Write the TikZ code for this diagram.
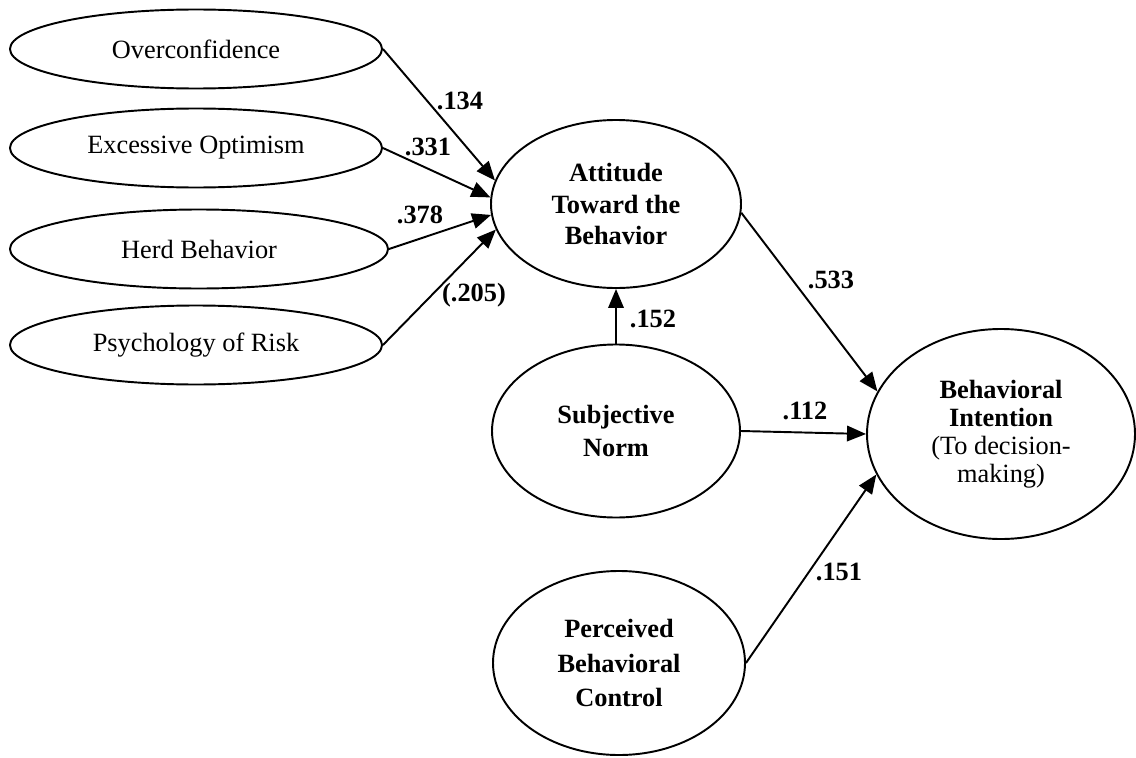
\documentclass[tikz,border=0pt]{standalone}
\usepackage{fontspec}
\setmainfont{Liberation Serif}
\usetikzlibrary{shapes.geometric, arrows.meta, positioning}

\begin{document}
\begin{tikzpicture}[
         factor/.style={ellipse, draw, line width=1.1pt, inner sep=0pt, align=center},
         bias/.style={factor, minimum width=7.44cm, minimum height=1.58cm, font=\fontsize{15}{18}\selectfont},
         construct/.style={factor, font=\fontsize{15}{18}\selectfont\bfseries},
         link/.style={-{Triangle[length=0.38cm, width=0.31cm]}, line width=1.1pt},
         weight/.style={font=\fontsize{15}{18}\selectfont\bfseries}
      ]
         \useasboundingbox (0,0) rectangle (22.72,15.14);

         % Nodes for the biases
         \node[bias] (over) at (3.92,14.16) {Overconfidence};
         \node[bias] (excess) at (3.92,12.18) {Excessive Optimism};
         \node[bias, minimum width=7.56cm] (herd) at (3.98,10.16) {Herd Behavior};
         \node[bias] (risk) at (3.92,8.24) {Psychology of Risk};

         % Nodes for the constructs
         \node[construct, minimum width=5.0cm, minimum height=3.36cm] (att) at (12.32,11.06)
            {Attitude\\Toward the\\Behavior};
         \node[construct, minimum width=4.96cm, minimum height=3.46cm,
            font=\fontsize{15}{18.7}\selectfont\bfseries] (norm) at (12.32,6.52)
            {Subjective\\Norm};
         \node[construct, minimum width=5.04cm, minimum height=3.68cm,
            font=\fontsize{15}{19.8}\selectfont\bfseries] (control) at (12.38,1.88)
            {Perceived\\Behavioral\\Control};
         \node[factor, minimum width=5.36cm, minimum height=4.2cm,
            font=\fontsize{15}{16}\selectfont] (intent) at (20.02,6.46)
            {\textbf{Behavioral}\\\textbf{Intention}\\(To decision-\\making)};

         % Paths
         \draw[link] (over.east) -- (att.169);
         \draw[link] (excess.east) -- (att.177);
         \draw[link] (herd.east) -- (att.185);
         \draw[link] (risk.east) -- (att.192);
         \draw[link] (norm.north) -- (att.south);
         \draw[link] (att.-4) -- (intent.161);
         \draw[link] (norm.east) -- (intent.180);
         \draw[link] (control.east) -- (intent.198);

         % Path coefficients
         \node[weight] (w134) at (9.2,13.12) {.134};
         \node[weight] (w331) at (8.56,12.2) {.331};
         \node[weight] (w378) at (8.4,10.84) {.378};
         \node[weight] (w205) at (9.48,9.24) {(.205)};
         \node[weight] (w152) at (13.06,8.76) {.152};
         \node[weight] (w533) at (16.62,9.54) {.533};
         \node[weight] (w112) at (16.1,6.92) {.112};
         \node[weight] (w151) at (16.78,3.7) {.151};
      \end{tikzpicture}
\end{document}
